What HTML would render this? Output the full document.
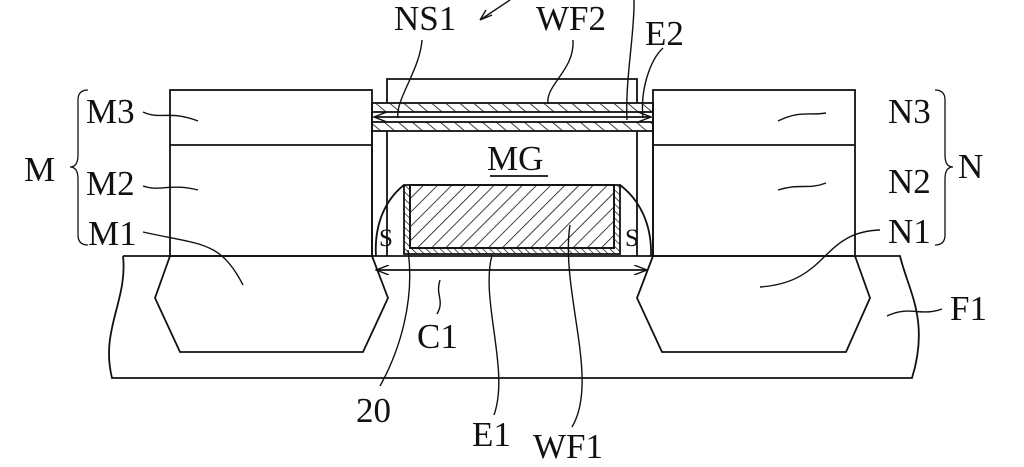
<!DOCTYPE html>
<html><head><style>
html,body{margin:0;padding:0;background:#fff;}
svg{display:block;}
text{font-family:"Liberation Serif",serif;font-size:35px;fill:#111;}
</style></head><body>
<svg width="1024" height="467" viewBox="0 0 1024 467" xmlns="http://www.w3.org/2000/svg">
<defs>
<pattern id="h1" width="10" height="10" patternUnits="userSpaceOnUse" patternTransform="rotate(45)">
<line x1="0" y1="0" x2="0" y2="10" stroke="#111" stroke-width="1.6"/></pattern>
<pattern id="h2" width="5" height="5" patternUnits="userSpaceOnUse" patternTransform="rotate(-45)">
<line x1="0" y1="0" x2="0" y2="5" stroke="#111" stroke-width="1.4"/></pattern>
<pattern id="h3" width="9" height="9" patternUnits="userSpaceOnUse" patternTransform="rotate(-50)">
<line x1="0" y1="0" x2="0" y2="9" stroke="#111" stroke-width="1.6"/></pattern>
<marker id="ar" markerWidth="14" markerHeight="10" refX="13" refY="5" orient="auto" markerUnits="userSpaceOnUse">
<path d="M0,0 L13,5 L0,10" fill="none" stroke="#111" stroke-width="1.4"/></marker>
</defs>
<g fill="none" stroke="#111" stroke-width="1.8">
<path d="M123,256 L900,256 C908,290 930,320 912,378 L112,378 C100,330 128,300 123,256"/>
<path d="M170,256 L155,298 L180,352 L363,352 L388,298 L372,256"/>
<path d="M653,256 L637,298 L662,352 L846,352 L870,298 L855,256"/>
<rect x="170" y="90" width="202" height="166"/>
<line x1="170" y1="145" x2="372" y2="145"/>
<rect x="653" y="90" width="202" height="166"/>
<line x1="653" y1="145" x2="855" y2="145"/>
<path d="M387,103 L387,79 L637,79 L637,103"/>
<line x1="372" y1="103" x2="372" y2="256"/>
<line x1="653" y1="103" x2="653" y2="256"/>
<line x1="387" y1="131" x2="387" y2="256"/>
<line x1="637" y1="131" x2="637" y2="256"/>
<rect x="372" y="103" width="281" height="9" fill="url(#h3)"/>
<rect x="372" y="122" width="281" height="9" fill="url(#h3)"/>
<line x1="374" y1="117" x2="651" y2="117" marker-end="url(#ar)" stroke-width="1.4"/>
<line x1="651" y1="117" x2="374" y2="117" marker-end="url(#ar)" stroke-width="1.4"/>
<path d="M404,185 C385,200 374,225 376,256"/>
<path d="M620,185 C640,200 652,225 651,256"/>
<path d="M404,185 L404,254 L620,254 L620,185 Z" fill="url(#h2)"/>
<rect x="410" y="185" width="204" height="63" fill="#fff"/>
<rect x="410" y="185" width="204" height="63" fill="url(#h1)"/>
<line x1="376" y1="270" x2="647" y2="270" marker-end="url(#ar)" stroke-width="1.4"/>
<line x1="647" y1="270" x2="376" y2="270" marker-end="url(#ar)" stroke-width="1.4"/>
<line x1="490" y1="176" x2="548" y2="176"/>
<path d="M88,90 Q78,90 78,100 L78,155 Q78,167 70,167 Q78,167 78,179 L78,235 Q78,245 88,245" stroke-width="1.3"/>
<path d="M935,90 Q945,90 945,100 L945,155 Q945,167 953,167 Q945,167 945,179 L945,235 Q945,245 935,245" stroke-width="1.3"/>
<g stroke-width="1.4">
<path d="M143,112 C160,120 170,110 198,121"/>
<path d="M143,186 C160,192 170,183 198,190"/>
<path d="M143,232 C200,245 220,240 243,285"/>
<path d="M826,113 C808,116 800,110 778,121"/>
<path d="M826,183 C808,190 800,183 778,190"/>
<path d="M880,230 C820,232 830,282 760,287"/>
<path d="M942,309 C920,317 910,305 887,316"/>
<path d="M422,40 C420,70 395,100 398,118"/>
<path d="M573,40 C575,70 545,85 548,104"/>
<path d="M663,48 C650,60 640,90 643,118"/>
<path d="M634,0 C635,30 625,80 627,120"/>
<path d="M437,314 C445,300 435,295 440,280"/>
<path d="M380,386 C400,350 415,300 408,250"/>
<path d="M494,415 C510,370 480,300 492,255"/>
<path d="M572,427 C600,380 560,290 570,225"/>
<path d="M510,0 L480,20 M480,20 L486,10 M480,20 L492,15"/>
</g>
</g>
<text x="379" y="246" style="font-size:25px">S</text>
<text x="625" y="246" style="font-size:25px">S</text>
<text x="487" y="170">MG</text>
<text x="86" y="123">M3</text>
<text x="86" y="195">M2</text>
<text x="88" y="245">M1</text>
<text x="24" y="181">M</text>
<text x="888" y="123">N3</text>
<text x="888" y="193">N2</text>
<text x="888" y="243">N1</text>
<text x="958" y="178">N</text>
<text x="950" y="320">F1</text>
<text x="394" y="30">NS1</text>
<text x="536" y="30">WF2</text>
<text x="645" y="45">E2</text>
<text x="417" y="348">C1</text>
<text x="356" y="422">20</text>
<text x="472" y="446">E1</text>
<text x="533" y="458">WF1</text>
</svg>
</body></html>
